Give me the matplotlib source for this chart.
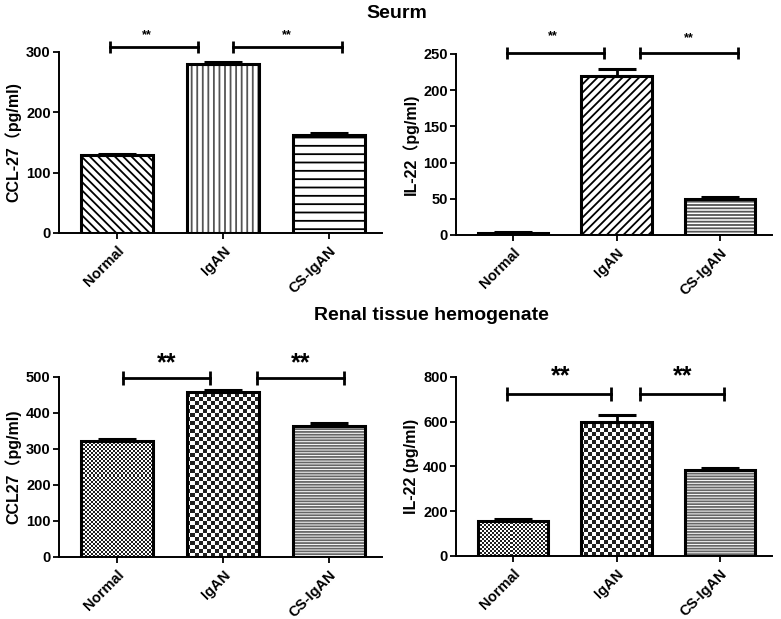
import numpy as np
import matplotlib
matplotlib.use("Agg")
import matplotlib.pyplot as plt

plt.rcParams['font.family'] = ['Liberation Sans', 'Noto Sans CJK SC', 'DejaVu Sans']
plt.rcParams['font.weight'] = 'bold'
plt.rcParams['hatch.linewidth'] = 1.3

groups = ['Normal', 'IgAN', 'CS-IgAN']

# Serum
ccl27_serum = [130, 280, 162]
ccl27_serum_err = [1, 4, 3]
il22_serum = [3, 219, 50]
il22_serum_err = [1, 10, 2]

# Renal tissue homogenate
ccl27_tissue = [323, 458, 363]
ccl27_tissue_err = [6, 5, 10]
il22_tissue = [155, 600, 385]
il22_tissue_err = [12, 28, 8]

# significance brackets: (x_start, x_end, y)
brackets_tl = [(-0.07, 0.76, 308), (1.09, 2.12, 308)]
brackets_tr = [(-0.06, 0.88, 252), (1.23, 2.17, 252)]
brackets_bl = [(0.05, 0.88, 497), (1.32, 2.14, 497)]
brackets_br = [(-0.06, 0.95, 724), (1.23, 2.04, 724)]
stars_tl = [(0.28, 328), (1.60, 328)]
stars_tr = [(0.38, 274), (1.70, 272)]
stars_bl = [(0.47, 538), (1.73, 538)]
stars_br = [(0.46, 805), (1.64, 805)]

fig = plt.figure(figsize=(7.81, 6.19), dpi=100)


def checker(ax, bar, cell_px):
    nx = int(round(ax.bbox.width / cell_px))
    ny = int(round(ax.bbox.height / cell_px))
    yy, xx = np.indices((ny, nx))
    img = ((xx + yy) % 2).astype(float)
    im = ax.imshow(img, cmap='gray', vmin=-0.15, vmax=1.0, extent=[0, 1, 0, 1],
                   transform=ax.transAxes, interpolation='nearest', aspect='auto',
                   zorder=2)
    im.set_clip_path(bar)


def panel(rect, vals, errs, ylim, yticks, ylabel, fills, brackets, stars, star_size, tick_h):
    ax = fig.add_axes(rect)
    x = np.arange(len(groups))
    fill_bars = ax.bar(x, vals, width=0.68, facecolor='white', edgecolor='black',
                       linewidth=0, zorder=2)
    for b, f in zip(fill_bars, fills):
        if f[0] == 'hatch':
            b.set_hatch(f[1])
            b.set_edgecolor(f[2])
        else:
            checker(ax, b, f[1])
    ax.bar(x, vals, width=0.68, facecolor='none', edgecolor='black',
           linewidth=2.2, zorder=3)
    ax.errorbar(x, vals, yerr=[np.zeros(len(vals)), errs], fmt='none',
                ecolor='black', elinewidth=2, capsize=14, capthick=2.2, zorder=4)
    for x1, x2, y in brackets:
        ax.plot([x1, x2], [y, y], color='black', lw=2, clip_on=False)
        ax.plot([x1, x2], [y, y], ls='none', marker='|', ms=tick_h, mew=2,
                color='black', clip_on=False)
    for sx, sy in stars:
        ax.text(sx, sy, '**', ha='center', va='center', fontsize=star_size,
                fontweight='bold', clip_on=False)
    ax.set_xlim(-0.55, 2.5)
    ax.set_ylim(*ylim)
    ax.set_yticks(yticks)
    ax.set_xticks(x)
    ax.set_xticklabels(groups, rotation=45, ha='right', rotation_mode='anchor',
                       fontsize=10.5, fontweight='bold')
    ax.tick_params(axis='y', labelsize=10.5, width=1.3, length=4, pad=2)
    ax.tick_params(axis='x', width=1.3, length=4)
    for lbl in ax.get_yticklabels():
        lbl.set_fontweight('bold')
    ax.set_ylabel(ylabel, fontsize=11.5, fontweight='bold', labelpad=3)
    ax.spines['top'].set_visible(False)
    ax.spines['right'].set_visible(False)
    ax.spines['left'].set_linewidth(1.4)
    ax.spines['bottom'].set_linewidth(1.4)
    return ax


panel([0.0755, 0.6236, 0.4136, 0.2924], ccl27_serum, ccl27_serum_err, (0, 300),
      [0, 100, 200, 300], 'CCL-27（pg/ml)',
      [('hatch', '\\\\\\\\', 'black'), ('hatch', '|||', '#555555'), ('hatch', '--', 'black')],
      brackets_tl, stars_tl, 9, 8)
panel([0.5839, 0.6204, 0.4046, 0.2924], il22_serum, il22_serum_err, (0, 250),
      [0, 50, 100, 150, 200, 250], 'IL-22（pg/ml)',
      [('hatch', '////', 'black'), ('hatch', '////', 'black'), ('hatch', '-----', '#555555')],
      brackets_tr, stars_tr, 9, 8)
panel([0.0755, 0.1002, 0.4136, 0.2908], ccl27_tissue, ccl27_tissue_err, (0, 500),
      [0, 100, 200, 300, 400, 500], 'CCL27（pg/ml)',
      [('checker', 2.0), ('checker', 4.0), ('hatch', '------', '#666666')],
      brackets_bl, stars_bl, 18, 10)
panel([0.5839, 0.1018, 0.4046, 0.2892], il22_tissue, il22_tissue_err, (0, 800),
      [0, 200, 400, 600, 800], 'IL-22 (pg/ml)',
      [('checker', 2.0), ('checker', 4.0), ('hatch', '------', '#666666')],
      brackets_br, stars_br, 18, 10)

fig.text(397 / 781, 1 - 13 / 619, 'Seurm', ha='center', va='center', fontsize=14,
         fontweight='bold')
fig.text(431 / 781, 1 - 316 / 619, 'Renal tissue hemogenate', ha='center', va='center',
         fontsize=14, fontweight='bold')

fig.savefig('out.png', dpi=100)
